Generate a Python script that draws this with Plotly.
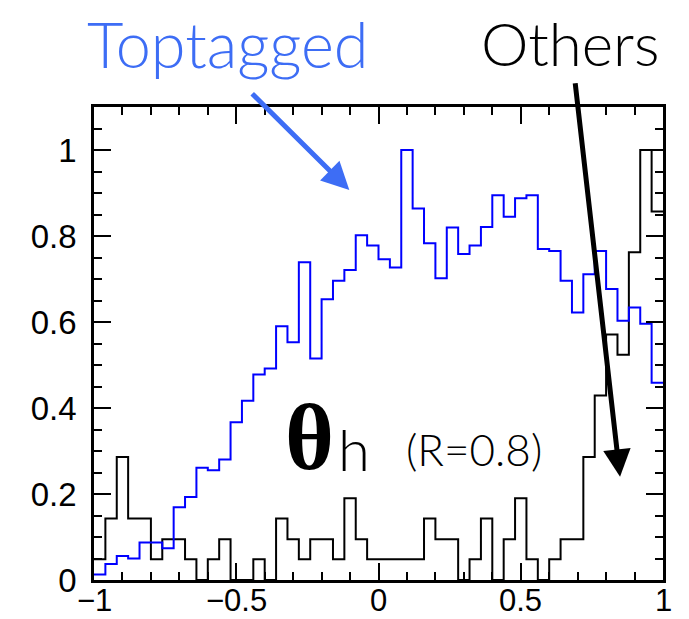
import plotly.graph_objects as go

# bin edges: 50 bins from -1 to 1
bin_lo = [round(-1 + 0.04 * i, 2) for i in range(50)]

toptagged = [0.013, 0.037, 0.056, 0.050, 0.087, 0.087, 0.074, 0.169, 0.193, 0.261,
             0.255, 0.280, 0.367, 0.417, 0.478, 0.492, 0.590, 0.553, 0.739, 0.515,
             0.653, 0.696, 0.721, 0.802, 0.778, 0.746, 0.727, 1.000, 0.864, 0.783,
             0.702, 0.820, 0.758, 0.778, 0.821, 0.895, 0.845, 0.888, 0.895, 0.770,
             0.765, 0.696, 0.622, 0.711, 0.765, 0.677, 0.603, 0.634, 0.596, 0.459]

others = [0.048, 0.143, 0.286, 0.143, 0.143, 0.048, 0.095, 0.095, 0.048, 0.000,
          0.048, 0.095, 0.000, 0.000, 0.048, 0.000, 0.143, 0.095, 0.048, 0.095,
          0.095, 0.048, 0.190, 0.095, 0.048, 0.048, 0.048, 0.048, 0.048, 0.143,
          0.095, 0.095, 0.000, 0.048, 0.143, 0.000, 0.095, 0.190, 0.048, 0.000,
          0.048, 0.095, 0.095, 0.286, 0.429, 0.571, 0.524, 0.762, 1.000, 0.857]

x_ticks = [-1, -0.5, 0, 0.5, 1]
x_ticklabels = ["\u22121", "\u22120.5", "0", "0.5", "1"]
y_ticks = [0, 0.2, 0.4, 0.6, 0.8, 1]
y_ticklabels = ["0", "0.2", "0.4", "0.6", "0.8", "1"]

xs = bin_lo + [1.0]


def steps(vals):
    return vals + [vals[-1]]


fig = go.Figure()
fig.add_trace(go.Scatter(x=xs, y=steps(others), mode="lines", line_shape="hv",
                         line=dict(color="black", width=2), showlegend=False))
fig.add_trace(go.Scatter(x=xs, y=steps(toptagged), mode="lines", line_shape="hv",
                         line=dict(color="#0000ff", width=2), showlegend=False))

tick_font = dict(family="Liberation Sans, Arial", size=33, color="black")
axis_common = dict(showline=True, linecolor="black", linewidth=2.5, mirror="allticks",
                   ticks="inside", tickwidth=2, tickcolor="black", ticklen=17,
                   showgrid=False, zeroline=False, automargin=False,
                   tickfont=tick_font)

fig.update_layout(
    width=689, height=619,
    margin=dict(l=94, r=26, t=107, b=39),
    paper_bgcolor="white", plot_bgcolor="white",
    xaxis=dict(range=[-1, 1], tickvals=x_ticks, showticklabels=False,
               minor=dict(dtick=0.1, tick0=-1, ticklen=8, tickwidth=1.5, ticks="inside", tickcolor="black"),
               **axis_common),
    yaxis=dict(range=[0, 1.1], tickvals=y_ticks, ticktext=y_ticklabels,
               minor=dict(dtick=0.05, tick0=0, ticklen=8, tickwidth=1.5, ticks="inside", tickcolor="black"),
               ticklabelstandoff=8, **axis_common),
)

# x tick labels placed just under the axis
for xv, lbl in zip(x_ticks, x_ticklabels):
    fig.add_annotation(text=lbl, x=xv, xref="x", y=-0.0423, yref="paper",
                       showarrow=False, xanchor="center", yanchor="middle",
                       font=dict(family="Liberation Sans, Arial", size=31, color="black"))

blue_lbl = "#3d6df5"
fig.add_annotation(text="Toptagged", xref="paper", yref="paper", x=0.2355, y=1.135,
                   showarrow=False, xanchor="center", yanchor="middle",
                   font=dict(family="Lato", size=63, color=blue_lbl, weight=300))
fig.add_annotation(text="Others", xref="paper", yref="paper", x=0.8366, y=1.135,
                   showarrow=False, xanchor="center", yanchor="middle",
                   font=dict(family="Lato", size=60, color="black", weight=300))
fig.add_annotation(text="<b>\u03b8</b>", xref="paper", yref="paper", x=0.3796, y=0.302,
                   showarrow=False, xanchor="center", yanchor="middle",
                   font=dict(family="Liberation Serif", size=94, color="black"))
fig.add_annotation(text="h", xref="paper", yref="paper", x=0.457, y=0.279,
                   showarrow=False, xanchor="center", yanchor="middle",
                   font=dict(family="Lato", size=58, color="black", weight=300))
fig.add_annotation(text="(R=0.8)", xref="paper", yref="paper", x=0.668, y=0.277,
                   showarrow=False, xanchor="center", yanchor="middle",
                   font=dict(family="Lato", size=44, color="black", weight=300))

# arrows
fig.add_annotation(text="", x=-0.1026, y=0.907, xref="x", yref="y",
                   ax=-98.6, ay=-97.7, axref="pixel", ayref="pixel",
                   showarrow=True, arrowhead=2, arrowsize=1.1, arrowwidth=5,
                   arrowcolor=blue_lbl, standoff=0)
fig.add_annotation(text="", x=0.849, y=0.24, xref="x", yref="y",
                   ax=-45, ay=-395, axref="pixel", ayref="pixel",
                   showarrow=True, arrowhead=2, arrowsize=1.1, arrowwidth=5,
                   arrowcolor="black", standoff=0)

fig.write_html("out.html")
